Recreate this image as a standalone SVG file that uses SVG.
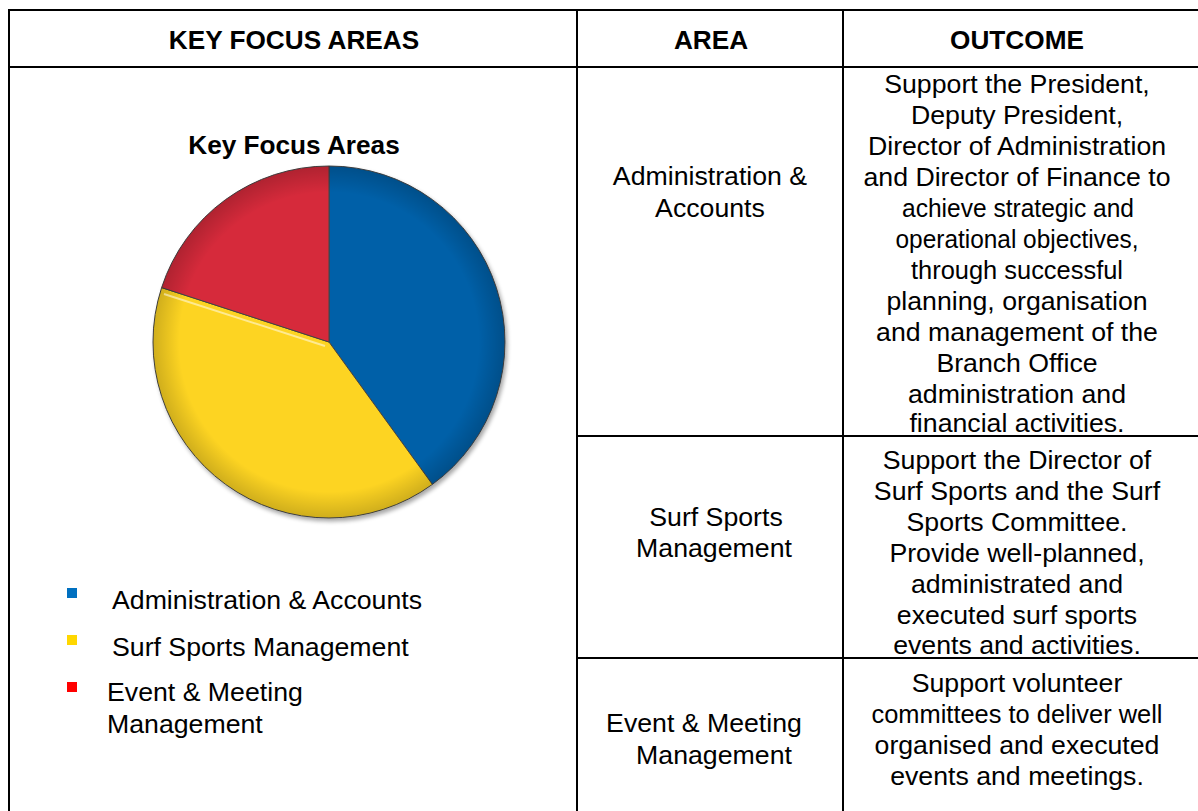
<svg xmlns="http://www.w3.org/2000/svg" width="1198" height="811" viewBox="0 0 1198 811">
<style>
text{font-family:"Liberation Sans",Arial,sans-serif;fill:#000}
.h{font-weight:bold;font-size:26.2px;text-anchor:middle}
.t{font-size:26.7px;text-anchor:middle}
.l{font-size:26.7px}
.grid{stroke:#000;stroke-width:2;fill:none}
.sl{stroke:#444;stroke-width:1}
</style>
<defs>
<radialGradient id="shade" cx="0.5" cy="0.5" r="0.5">
<stop offset="0.85" stop-color="#000" stop-opacity="0"/>
<stop offset="1" stop-color="#000" stop-opacity="0.18"/>
</radialGradient>
<filter id="sh" x="-10%" y="-10%" width="125%" height="125%">
<feGaussianBlur in="SourceAlpha" stdDeviation="2"/>
<feOffset dx="2" dy="3"/>
<feComponentTransfer><feFuncA type="linear" slope="0.35"/></feComponentTransfer>
<feMerge><feMergeNode/><feMergeNode in="SourceGraphic"/></feMerge>
</filter>
</defs>
<rect width="1198" height="811" fill="#fff"/>
<g id="table" class="grid">
<line x1="8" y1="10" x2="1198" y2="10"/>
<line x1="8" y1="67" x2="1198" y2="67"/>
<line x1="9" y1="9" x2="9" y2="811"/>
<line x1="577" y1="9" x2="577" y2="811"/>
<line x1="843" y1="9" x2="843" y2="811"/>
<line x1="577" y1="436" x2="1198" y2="436"/>
<line x1="577" y1="658" x2="1198" y2="658"/>
</g>
<g id="headers">
<text class="h" x="294" y="49">KEY FOCUS AREAS</text>
<text class="h" x="711" y="49">AREA</text>
<text class="h" x="1017" y="49">OUTCOME</text>
</g>
<g id="chart">
<text class="h" x="294" y="154">Key Focus Areas</text>
<g filter="url(#sh)">
<path d="M329,342 L329,166 A176,176 0 0 1 432.4,484.4 Z" fill="#0060A8" class="sl"/>
<path d="M329,342 L432.4,484.4 A176,176 0 0 1 161.6,287.6 Z" fill="#FDD420" class="sl"/>
<path d="M329,342 L161.6,287.6 A176,176 0 0 1 329,166 Z" fill="#D62A3B" class="sl"/>
</g>
<circle cx="329" cy="342" r="176" fill="url(#shade)"/>
<path d="M164,294 L325,346" stroke="#fff" stroke-opacity="0.5" stroke-width="2"/>
</g>
<g id="legend">
<rect x="67" y="588" width="10" height="10" fill="#0070C0"/>
<text class="l" x="112" y="609">Administration &amp; Accounts</text>
<rect x="67" y="635" width="10" height="10" fill="#FFD700"/>
<text class="l" x="112" y="656">Surf Sports Management</text>
<rect x="67" y="682" width="10" height="10" fill="#FF0000"/>
<text class="l" x="107" y="701">Event &amp; Meeting</text>
<text class="l" x="107" y="733">Management</text>
</g>
<g id="row1">
<text class="t" x="710" y="185">Administration &amp;</text>
<text class="t" x="710" y="217">Accounts</text>
<text class="t" x="1017" y="93">Support the President,</text>
<text class="t" x="1017" y="124">Deputy President,</text>
<text class="t" x="1017" y="155">Director of Administration</text>
<text class="t" x="1017" y="186">and Director of Finance to</text>
<text class="t" x="1018" y="217" textLength="232" lengthAdjust="spacingAndGlyphs">achieve strategic and</text>
<text class="t" x="1017" y="248" textLength="243" lengthAdjust="spacingAndGlyphs">operational objectives,</text>
<text class="t" x="1017" y="279" textLength="212" lengthAdjust="spacingAndGlyphs">through successful</text>
<text class="t" x="1017" y="310">planning, organisation</text>
<text class="t" x="1017" y="341">and management of the</text>
<text class="t" x="1017" y="372">Branch Office</text>
<text class="t" x="1017" y="403">administration and</text>
<text class="t" x="1017" y="432">financial activities.</text>
</g>
<g id="row2">
<text class="t" x="716" y="526">Surf Sports</text>
<text class="t" x="714" y="557">Management</text>
<text class="t" x="1017" y="469">Support the Director of</text>
<text class="t" x="1017" y="500">Surf Sports and the Surf</text>
<text class="t" x="1017" y="531">Sports Committee.</text>
<text class="t" x="1017" y="562">Provide well-planned,</text>
<text class="t" x="1017" y="593">administrated and</text>
<text class="t" x="1017" y="624">executed surf sports</text>
<text class="t" x="1017" y="654">events and activities.</text>
</g>
<g id="row3">
<text class="t" x="704" y="732">Event &amp; Meeting</text>
<text class="t" x="714" y="764">Management</text>
<text class="t" x="1017" y="692">Support volunteer</text>
<text class="t" x="1017" y="723" textLength="291" lengthAdjust="spacingAndGlyphs">committees to deliver well</text>
<text class="t" x="1017" y="754">organised and executed</text>
<text class="t" x="1017" y="785">events and meetings.</text>
</g>
</svg>
